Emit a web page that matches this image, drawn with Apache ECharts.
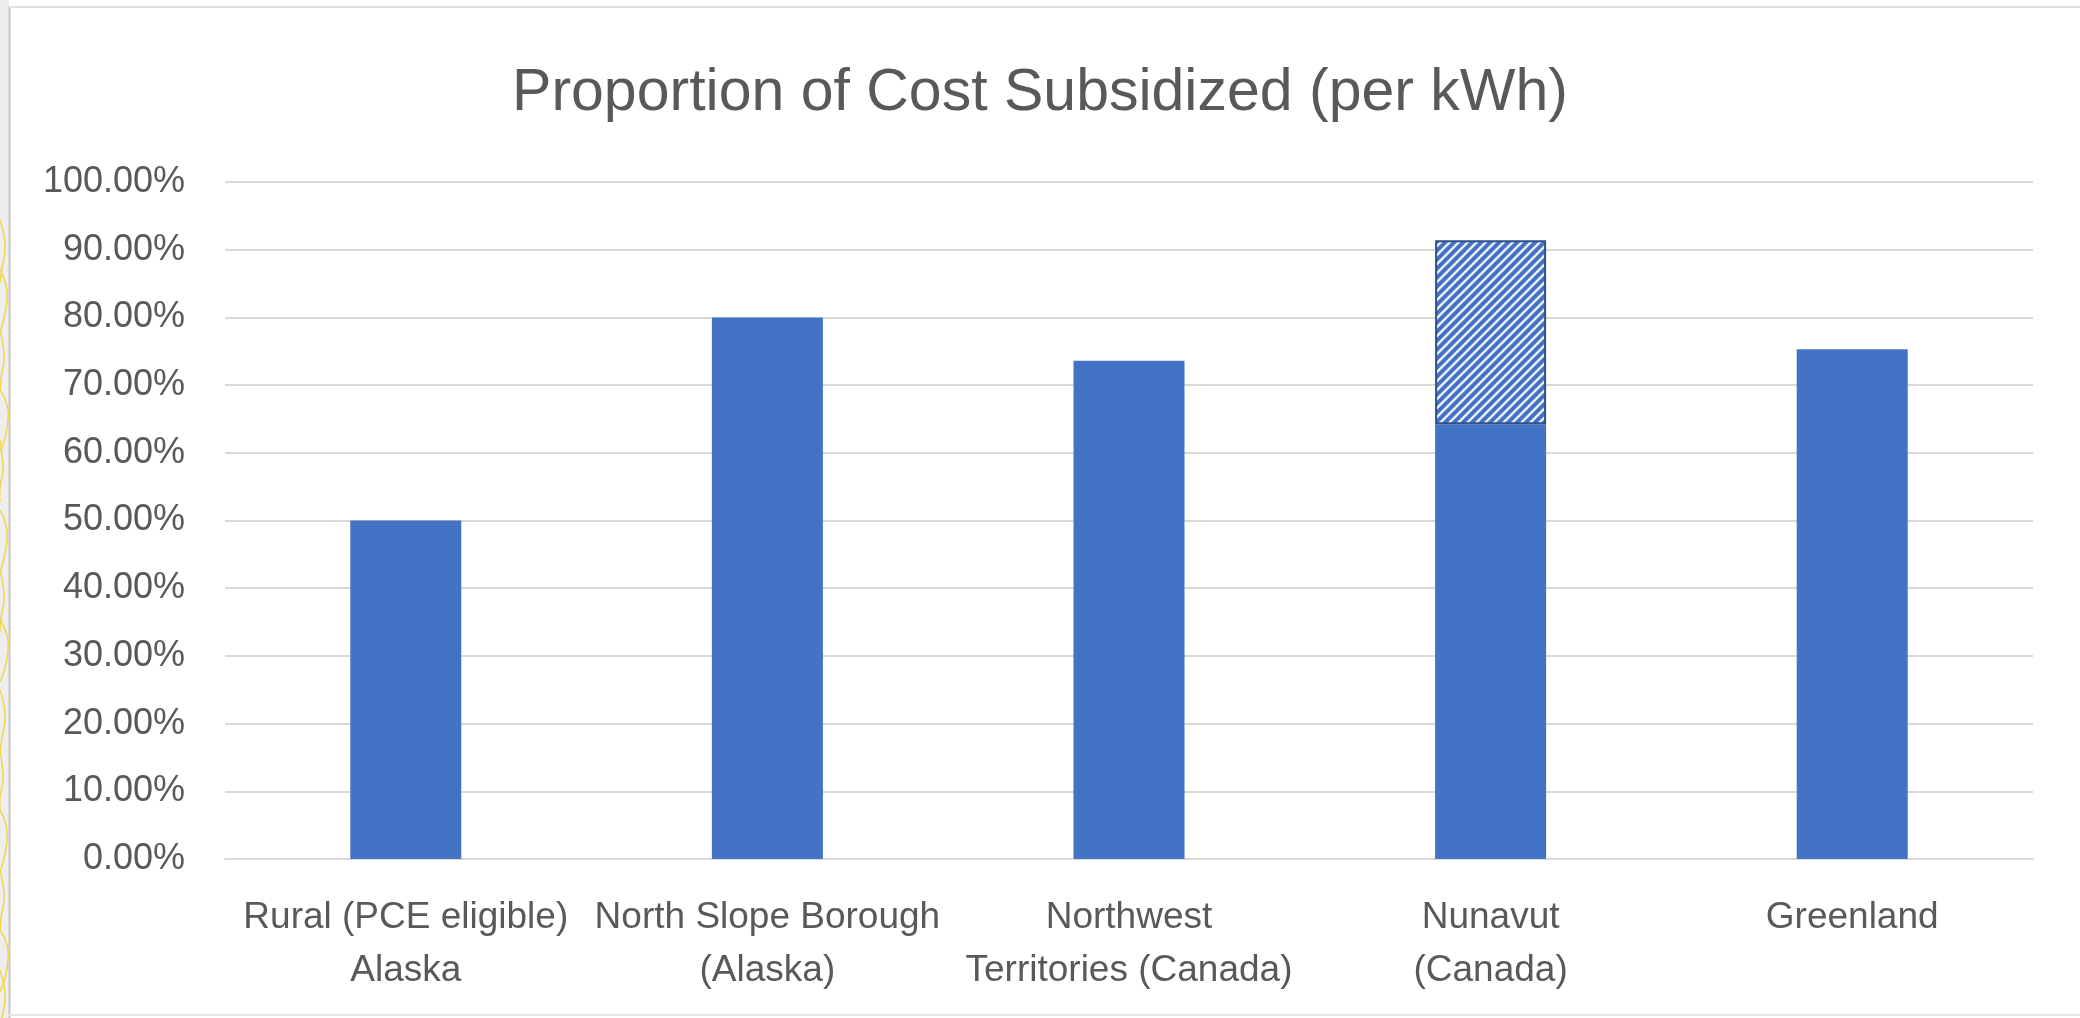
<!DOCTYPE html>
<html>
<head>
<meta charset="utf-8">
<script src="https://cdn.jsdelivr.net/npm/echarts@6/dist/echarts.min.js"></script>
<style>
html,body{margin:0;padding:0;background:#ffffff;}
#main{width:2080px;height:1018px;}
</style>
</head>
<body>
<div id="main"></div>
<script>
var categories = ['Rural (PCE eligible)\nAlaska', 'North Slope Borough\n(Alaska)', 'Northwest\nTerritories (Canada)', 'Nunavut\n(Canada)', 'Greenland'];
var subsidizedBase = [50.0, 80.0, 73.6, 64.2, 75.3];
var subsidizedExtra = ['-', '-', '-', 27.2, '-'];
var yTicks = [0, 10, 20, 30, 40, 50, 60, 70, 80, 90, 100];

function makePattern() {
  var s = 9;
  var c = document.createElement('canvas');
  c.width = s; c.height = s;
  var g = c.getContext('2d');
  g.fillStyle = '#4472C4';
  g.fillRect(0, 0, s, s);
  g.strokeStyle = '#eef2fa';
  g.lineWidth = 2.4;
  g.beginPath();
  g.moveTo(-1, s + 1); g.lineTo(s + 1, -1);
  g.moveTo(-s / 2 - 1, s / 2 + 1); g.lineTo(s / 2 + 1, -s / 2 - 1);
  g.moveTo(s / 2 - 1, s * 1.5 + 1); g.lineTo(s * 1.5 + 1, s / 2 - 1);
  g.stroke();
  return c;
}

var chart = echarts.init(document.getElementById('main'), null, {renderer: 'canvas'});
var font = '"Liberation Sans", Arial, sans-serif';

var yellowLines = [];
var ys = [[250,4],[300,6],[360,3],[420,7],[470,2],[540,6],[600,3],[650,7],[720,4],[780,2],[840,6],[900,3],[960,7],[1000,4]];
for (var i = 0; i < ys.length; i++) {
  var y0 = ys[i][0], x0 = ys[i][1];
  yellowLines.push({
    type: 'polyline', silent: true,
    shape: {points: [[0, y0 - 30], [x0, y0 - 15], [x0 + 1, y0], [x0 - 2, y0 + 18], [0, y0 + 32]], smooth: 0.5},
    style: {stroke: '#f3d54a', lineWidth: 1.5, fill: null}
  });
}

var option = {
  backgroundColor: '#ffffff',
  animation: false,
  title: {
    text: 'Proportion of Cost Subsidized (per kWh)',
    left: 'center',
    top: 64,
    padding: [0, 0, 0, 20],
    textStyle: {fontFamily: font, fontSize: 59, fontWeight: 'normal', color: '#595959'}
  },
  grid: {left: 225, right: 47, top: 182, bottom: 159, containLabel: false},
  xAxis: {
    type: 'category',
    data: categories,
    axisTick: {show: false},
    axisLine: {show: true, lineStyle: {color: '#d9d9d9', width: 2}},
    axisLabel: {
      interval: 0, margin: 32,
      fontFamily: font, fontSize: 37, lineHeight: 53, color: '#595959'
    }
  },
  yAxis: {
    type: 'value',
    min: yTicks[0], max: yTicks[yTicks.length - 1], interval: 10,
    axisLine: {show: false},
    axisTick: {show: false},
    splitLine: {lineStyle: {color: '#d9d9d9', width: 2}},
    axisLabel: {
      margin: 40,
      fontFamily: font, fontSize: 36, color: '#595959',
      formatter: function (v) { return v.toFixed(2) + '%'; }
    }
  },
  series: [
    {
      name: 'Subsidized',
      type: 'bar',
      stack: 'total',
      barWidth: 111,
      data: subsidizedBase,
      itemStyle: {color: '#4472C4'}
    },
    {
      name: 'Additional',
      type: 'bar',
      stack: 'total',
      barWidth: 111,
      data: subsidizedExtra,
      itemStyle: {
        color: {image: makePattern(), repeat: 'repeat'},
        borderColor: '#2F528F',
        borderWidth: 2
      }
    }
  ],
  graphic: [
    {type: 'rect', silent: true, z: -10, shape: {x: 0, y: 0, width: 9, height: 1018}, style: {fill: '#eeeeee'}},
    {type: 'line', silent: true, shape: {x1: 9.5, y1: 6, x2: 9.5, y2: 1018}, style: {stroke: '#c8c8c8', lineWidth: 2}},
    {type: 'line', silent: true, shape: {x1: 9, y1: 7, x2: 2080, y2: 7}, style: {stroke: '#e0e0e0', lineWidth: 2}},
    {type: 'line', silent: true, shape: {x1: 9, y1: 1015, x2: 2080, y2: 1015}, style: {stroke: '#e6e6e6', lineWidth: 2}}
  ].concat(yellowLines)
};
chart.setOption(option);
</script>
</body>
</html>
